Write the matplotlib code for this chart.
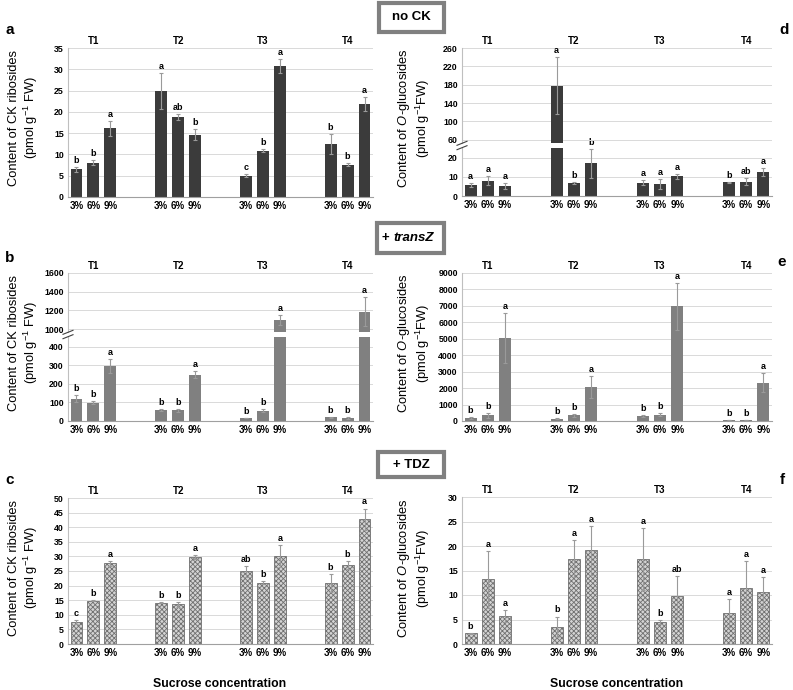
import numpy as np
import matplotlib.pyplot as plt
from matplotlib.lines import Line2D
from matplotlib.patches import Rectangle

plt.rcParams['font.family'] = ['Liberation Sans', 'DejaVu Sans']
plt.rcParams['mathtext.fontset'] = 'custom'
plt.rcParams['mathtext.rm'] = 'Liberation Sans'
plt.rcParams['mathtext.it'] = 'Liberation Sans:italic'
plt.rcParams['mathtext.bf'] = 'Liberation Sans:bold'
plt.rcParams['hatch.linewidth'] = 0.6

# ---- data (pmol g-1 FW), order: T1 3/6/9%, T2 3/6/9%, T3 ..., T4 ...
times = ["T1", "T2", "T3", "T4"]
sucrose = ["3%", "6%", "9%"]

a_mean = [6.5, 8.1, 16.1, 24.9, 18.7, 14.6, 5.0, 10.9, 30.8, 12.4, 7.6, 21.8]
a_sd = [0.6, 0.6, 1.8, 4.2, 0.7, 1.3, 0.4, 0.4, 1.6, 2.3, 0.3, 1.6]
a_let = ["b", "b", "a", "a", "ab", "b", "c", "b", "a", "b", "b", "a"]

d_mean = [5.7, 8.0, 5.2, 177.8, 6.6, 17.0, 7.0, 6.2, 10.2, 7.1, 7.5, 12.5]
d_sd = [0.9, 2.2, 1.4, 62, 0.5, 7.5, 1.4, 2.7, 1.4, 0.4, 1.8, 2.1]
d_let = ["a", "a", "a", "a", "b", "b", "a", "a", "a", "b", "ab", "a"]

b_mean = [121, 99, 297, 58, 58, 250, 16, 56, 1097, 20, 16, 1187]
b_sd = [18, 7, 36, 5, 7, 18, 2, 7, 54, 2, 4, 160]
b_let = ["b", "b", "a"] * 4

e_mean = [183, 346, 5029, 143, 346, 2077, 305, 387, 6963, 61, 41, 2341]
e_sd = [61, 163, 1527, 40, 102, 672, 82, 102, 1426, 20, 5, 550]
e_let = ["b", "b", "a"] * 4

c_mean = [7.6, 14.8, 27.6, 14.2, 13.6, 29.8, 24.9, 21.0, 30.1, 20.8, 27.0, 42.7]
c_sd = [0.7, 0.1, 0.8, 0.2, 0.9, 0.7, 1.8, 0.5, 3.8, 3.1, 1.4, 3.7]
c_let = ["c", "b", "a", "b", "b", "a", "ab", "b", "a", "b", "b", "a"]

f_mean = [2.2, 13.2, 5.7, 3.5, 17.4, 19.1, 17.3, 4.5, 9.7, 6.3, 11.5, 10.6]
f_sd = [0.1, 5.8, 1.3, 2.1, 3.8, 5.0, 6.3, 0.4, 4.2, 2.9, 5.4, 3.1]
f_let = ["b", "a", "a", "b", "a", "a", "a", "b", "ab", "a", "a", "a"]

W, H = 793, 690
fig = plt.figure(figsize=(W / 100, H / 100), dpi=100)

xpos = [g * 5 + k for g in range(4) for k in range(3)]
centers = [g * 5 + 1 for g in range(4)]

DARK = dict(color="#3b3b3b")
GRAY = dict(color="#808080")
HATCH = dict(facecolor="#d4d4d4", edgecolor="#707070", hatch="xxxxxxx", linewidth=0.6)


def add_ax(x0, y0, x1, y1):
    ax = fig.add_axes([x0 / W, 1 - y1 / H, (x1 - x0) / W, (y1 - y0) / H])
    ax.patch.set_visible(False)
    return ax


def setup(ax, lim, ticks, bottom=True):
    ax.set_xlim(-0.5, 17.5)
    ax.set_ylim(*lim)
    for s in ["top", "right"]:
        ax.spines[s].set_visible(False)
    ax.spines["left"].set_color("#bfbfbf")
    ax.spines["bottom"].set_color("#a0a0a0")
    ax.spines["bottom"].set_visible(bottom)
    ax.set_yticks(ticks, labels=[str(t) for t in ticks], fontweight="bold", fontsize=6.3)
    ax.tick_params(length=0, pad=3)
    ax.grid(axis="y", color="#d9d9d9", lw=0.7)
    ax.set_axisbelow(True)
    if bottom:
        ax.set_xticks(xpos, labels=sucrose * 4, fontweight="bold", fontsize=7)
    else:
        ax.set_xticks([])


def draw(axes, mean, sd, letters, kw):
    for ax in axes:
        ax.bar(xpos, mean, width=0.7, zorder=2, **kw)
        ax.errorbar(xpos, mean, yerr=sd, fmt="none", ecolor="#9a9a9a",
                    elinewidth=0.8, capsize=1.5, capthick=0.8, zorder=3)
    for x, m, s, l in zip(xpos, mean, sd, letters):
        top = m + s
        for ax in axes:
            lo, hi = ax.get_ylim()
            if lo <= top <= hi:
                ax.annotate(l, (x, top), xytext=(0, 1.5), textcoords="offset points",
                            ha="center", va="bottom", fontsize=6.5, fontweight="bold",
                            annotation_clip=False)
                break
    top_ax = axes[-1]
    for c, t in zip(centers, times):
        top_ax.annotate(t, (c, 1), xycoords=("data", "axes fraction"), xytext=(0, 1.5),
                        textcoords="offset points", ha="center", va="bottom",
                        fontsize=7, fontweight="bold")


def break_mark(xp, yp):
    for dy in (-2.2, 2.2):
        fig.add_artist(Line2D([(xp - 5) / W, (xp + 5) / W],
                              [1 - (yp + dy + 2) / H, 1 - (yp + dy - 2) / H],
                              color="#404040", lw=0.8))


def ylab(xc, yc, text):
    fig.text(xc / W, 1 - yc / H, text, rotation=90, ha="center", va="center",
             fontsize=9.3, multialignment="center", linespacing=1.15)


def box(x0, y0, x1, y1):
    fig.add_artist(Rectangle((x0 / W, 1 - y1 / H), (x1 - x0) / W, (y1 - y0) / H,
                             transform=fig.transFigure, facecolor="white",
                             edgecolor="#808080", lw=3))


# ---- a
ax_a = add_ax(68, 48, 373, 197)
setup(ax_a, (0, 35), range(0, 36, 5))
draw([ax_a], a_mean, a_sd, a_let, DARK)

# ---- d (broken axis)
ax_d1 = add_ax(462, 148, 772, 196)
ax_d2 = add_ax(462, 48, 772, 143)
setup(ax_d1, (0, 25), [0, 10, 20])
setup(ax_d2, (53, 260), range(60, 261, 40), bottom=False)
draw([ax_d1, ax_d2], d_mean, d_sd, d_let, DARK)
break_mark(462, 145.5)

# ---- b (broken axis)
ax_b1 = add_ax(68, 337, 373, 421)
ax_b2 = add_ax(68, 273, 373, 332)
setup(ax_b1, (0, 454), range(0, 401, 100))
setup(ax_b2, (968, 1600), range(1000, 1601, 200), bottom=False)
draw([ax_b1, ax_b2], b_mean, b_sd, b_let, GRAY)
break_mark(68, 334.5)

# ---- e
ax_e = add_ax(462, 273, 772, 421)
setup(ax_e, (0, 9000), range(0, 9001, 1000))
draw([ax_e], e_mean, e_sd, e_let, GRAY)

# ---- c
ax_c = add_ax(68, 498, 373, 644)
setup(ax_c, (0, 50), range(0, 51, 5))
draw([ax_c], c_mean, c_sd, c_let, HATCH)

# ---- f
ax_f = add_ax(462, 497, 772, 644)
setup(ax_f, (0, 30), range(0, 31, 5))
draw([ax_f], f_mean, f_sd, f_let, HATCH)

# ---- labels
ck = "Content of CK ribosides\n(pmol g$^{-1}$ FW)"
og = "Content of $\\mathit{O}$-glucosides\n(pmol g$^{-1}$FW)"
for yc in (118, 343, 568):
    ylab(24, yc, ck)
    ylab(414, yc, og)

for t, xp, yp in [("a", 5, 30), ("b", 5, 258), ("c", 5, 480),
                  ("d", 784, 30), ("e", 782, 262), ("f", 782, 480)]:
    fig.text(xp / W, 1 - yp / H, t, fontsize=11, fontweight="bold", ha="left" if xp < 100 else "center",
             va="center")

for xc in (220, 617):
    fig.text(xc / W, 1 - 684 / H, "Sucrose concentration", fontsize=8.8,
             fontweight="bold", ha="center", va="center")

box(379, 3, 444, 32)
fig.text(411.5 / W, 1 - 17.5 / H, "no CK", fontsize=9.5, fontweight="bold", ha="center", va="center")
box(377, 223, 444, 253)
fig.text(382 / W, 1 - 238 / H, "+", fontsize=9.5, fontweight="bold", ha="left", va="center")
fig.text(393 / W, 1 - 238 / H, "transZ", fontsize=9.5, fontweight="bold", style="italic",
         ha="left", va="center")
box(378, 452, 444, 477)
fig.text(411 / W, 1 - 464.5 / H, "+ TDZ", fontsize=9.5, fontweight="bold", ha="center", va="center")

fig.savefig("out.png", dpi=100)
